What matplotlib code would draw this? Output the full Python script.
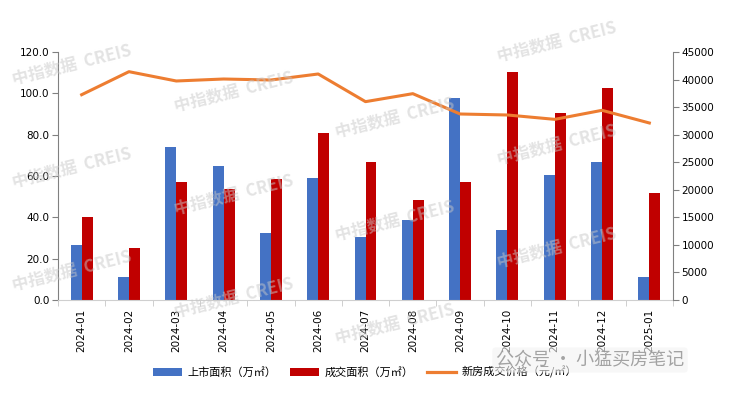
import matplotlib
matplotlib.use("Agg")
import matplotlib.pyplot as plt
import numpy as np
from matplotlib.lines import Line2D
from matplotlib.patches import Patch

plt.rcParams['font.family'] = ['Noto Sans CJK SC', 'DejaVu Sans']

months = ["2024-01", "2024-02", "2024-03", "2024-04", "2024-05", "2024-06", "2024-07",
          "2024-08", "2024-09", "2024-10", "2024-11", "2024-12", "2025-01"]
supply_area = [26.6, 11.1, 74.0, 64.8, 32.4, 59.0, 30.5, 38.7, 97.7, 33.9, 60.5, 66.8, 11.1]
sales_area = [40.2, 25.2, 57.1, 53.7, 58.7, 80.8, 66.8, 48.4, 57.1, 110.3, 90.5, 102.6, 51.8]
price = [37250, 41430, 39740, 40100, 39920, 41010, 35990, 37440, 33750, 33570, 32780, 34420, 32120]

left_ticks = [0, 20, 40, 60, 80, 100, 120]
right_ticks = list(range(0, 45001, 5000))

label_supply = "上市面积（万㎡）"
label_sales = "成交面积（万㎡）"
label_price = "新房成交价格（元/㎡）"

c_blue = "#4472C4"
c_red = "#C00000"
c_orange = "#ED7D31"

fig = plt.figure(figsize=(7.3, 3.94), dpi=100)
ax = fig.add_axes([58/730, 1-300/394, (673-58)/730, (300-52)/394])
ax2 = ax.twinx()

# watermarks
wm_cols = [72, 234, 395, 557]
for i, cx in enumerate(wm_cols):
    base = 65 + 26.5 * i
    for k in range(-2, 4):
        cy = base + 103 * k
        if 35 < cy < 340:
            fig.text(cx/730, 1-cy/394, "中指数据  CREIS", fontsize=12, fontweight='bold',
                     color="#c8c8c8", alpha=0.5, rotation=14, ha='center', va='center',
                     zorder=10)

x = np.arange(len(months))
w = 0.232
ax.bar(x - w/2, supply_area, width=w, color=c_blue, zorder=2)
ax.bar(x + w/2, sales_area, width=w, color=c_red, zorder=2)
ax2.plot(x, price, color=c_orange, lw=2.2, zorder=3)

ax.set_xlim(-0.5, len(months) - 0.5)
ax.set_ylim(0, 120)
ax2.set_ylim(0, 45000)
ax.set_yticks(left_ticks)
ax.set_yticklabels([f"{v:.1f}" for v in left_ticks], fontsize=7.5, family=['DejaVu Sans'])
ax2.set_yticks(right_ticks)
ax2.set_yticklabels([str(v) for v in right_ticks], fontsize=7.5, family=['DejaVu Sans'])

ax.set_xticks(x)
ax.set_xticklabels(months, rotation=90, fontsize=7.5, family=['DejaVu Sans'])
ax.tick_params(axis='x', which='major', length=0, pad=6)
ax.set_xticks(np.arange(-0.5, len(months), 1), minor=True)
ax.tick_params(axis='x', which='minor', length=4, color="#c8c8c8", direction='out')

for a in (ax, ax2):
    a.spines['top'].set_visible(False)
    a.patch.set_visible(False)
ax.spines['right'].set_visible(False)
ax2.spines['left'].set_visible(False)
ax2.spines['bottom'].set_visible(False)
ax.spines['left'].set_color("#808080")
ax2.spines['right'].set_color("#808080")
ax.spines['bottom'].set_color("#cfcfcf")
ax.tick_params(axis='y', length=4, color="#808080", pad=2)
ax2.tick_params(axis='y', length=4, color="#808080", pad=2)

handles = [Patch(facecolor=c_blue), Patch(facecolor=c_red), Line2D([0], [0], color=c_orange, lw=2.3)]
fig.legend(handles, [label_supply, label_sales, label_price], loc='center',
           bbox_to_anchor=(365/730, 1-372/394), ncol=3, frameon=False, fontsize=8,
           handlelength=2.6, handleheight=0.8, columnspacing=1.2, handletextpad=0.5)

fig.text(590/730, 1-360/394, "公众号 · 小猛买房笔记", fontsize=13, color="#9a9a9a",
         ha='center', va='center', alpha=0.9, zorder=11,
         bbox=dict(boxstyle="round,pad=0.2", fc="#f2f2f2", ec="none", alpha=0.6))

fig.savefig("out.png", dpi=100)
